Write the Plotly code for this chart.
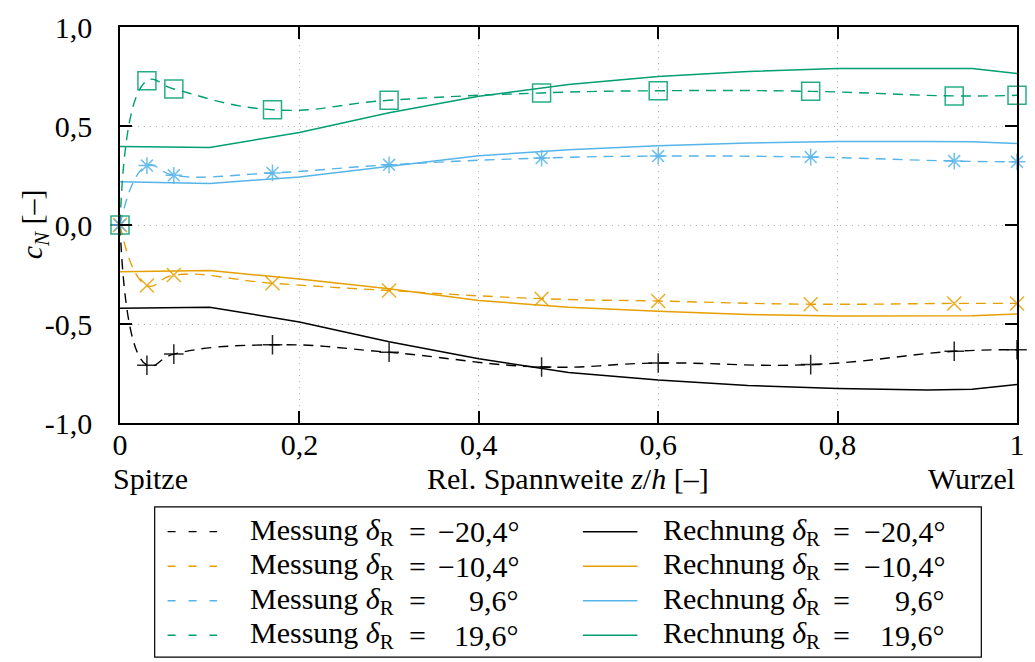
import plotly.graph_objects as go

# ---------------- data ----------------
z_meas = [0.0, 0.03, 0.06, 0.17, 0.30, 0.47, 0.60, 0.77, 0.93, 1.0]
mess_m204 = [0.0, -0.708, -0.652, -0.605, -0.643, -0.717, -0.697, -0.705, -0.638, -0.630]
mess_m104 = [0.0, -0.306, -0.253, -0.294, -0.331, -0.372, -0.384, -0.400, -0.396, -0.396]
mess_p96 = [0.0, 0.300, 0.251, 0.263, 0.304, 0.338, 0.348, 0.343, 0.323, 0.319]
mess_p196 = [0.0, 0.728, 0.687, 0.582, 0.630, 0.667, 0.678, 0.675, 0.652, 0.655]

z_calc = [0.0, 0.1, 0.2, 0.3, 0.4, 0.5, 0.6, 0.7, 0.8, 0.9, 0.95, 1.0]
rech_m204 = [-0.420, -0.415, -0.490, -0.590, -0.675, -0.745, -0.783, -0.810, -0.826, -0.833, -0.830, -0.805]
rech_m104 = [-0.236, -0.230, -0.273, -0.322, -0.381, -0.415, -0.436, -0.452, -0.459, -0.460, -0.458, -0.450]
rech_p96 = [0.218, 0.210, 0.243, 0.295, 0.350, 0.380, 0.400, 0.414, 0.422, 0.422, 0.420, 0.412]
rech_p196 = [0.397, 0.392, 0.467, 0.567, 0.650, 0.710, 0.750, 0.775, 0.790, 0.792, 0.790, 0.765]

angle_labels = ["\u221220,4°", "\u221210,4°", "9,6°", "19,6°"]
x_tickvals = [0, 0.2, 0.4, 0.6, 0.8, 1.0]
x_ticktext = ["0", "0,2", "0,4", "0,6", "0,8", "1"]
y_tickvals = [-1.0, -0.5, 0.0, 0.5, 1.0]
y_ticktext = ["-1,0", "-0,5", "0,0", "0,5", "1,0"]

# ---------------- styles ----------------
colors = ["#000000", "#E69F00", "#56B4E9", "#009E73"]
symbols = ["cross-thin-open", "x-thin-open", "asterisk-open", "square-open"]
msizes = [14, 14, 14, 18]
FONT = "Liberation Serif"
FS = 30
DASH = "10px,7px"

mess = [mess_m204, mess_m104, mess_p96, mess_p196]
rech = [rech_m204, rech_m104, rech_p96, rech_p196]

fig = go.Figure()
for i in range(4):
    fig.add_trace(go.Scatter(
        x=z_calc, y=rech[i], mode="lines",
        line=dict(color=colors[i], width=1.5),
        showlegend=False, hoverinfo="skip"))
for i in range(4):
    fig.add_trace(go.Scatter(
        x=z_meas, y=mess[i], mode="lines",
        line=dict(color=colors[i], width=1.4, dash=DASH, shape="spline", smoothing=1.3),
        showlegend=False, hoverinfo="skip"))
for i in range(4):
    fig.add_trace(go.Scatter(
        x=z_meas, y=mess[i], mode="markers", cliponaxis=False,
        marker=dict(symbol=symbols[i], size=msizes[i], color=colors[i],
                    line=dict(color=colors[i], width=1.5), opacity=0.85),
        showlegend=False, hoverinfo="skip"))

# pixel -> paper helpers (plot area 120..1025 x 22..423)
L, R, T, B = 120, 1025, 22, 423
def px(xp):
    return (xp - L) / (R - L)
def py(yp):
    return (B - yp) / (B - T)

def ann(text, x, y, xa, angle=0):
    return dict(text=text, x=px(x), y=py(y), xref="paper", yref="paper",
                xanchor=xa, yanchor="middle", showarrow=False, textangle=angle)

annotations = []
shapes = []
# x axis labels row
row_y = 479
annotations.append(ann("Spitze", 111, row_y, "left"))
annotations.append(ann("Wurzel", 1025, row_y, "right"))
annotations.append(ann("Rel. Spannweite <i>z</i>/<i>h</i> [–]", 572, row_y, "center"))
# y axis title
annotations.append(ann("<i>c</i><sub><i>N</i></sub> [–]", 33, 222, "center", -90))

# legend box
shapes.append(dict(type="rect", xref="paper", yref="paper", x0=px(155), x1=px(989),
                   y0=py(508), y1=py(660), line=dict(color="#000000", width=1.2),
                   fillcolor="white", layer="above"))
row_ys = [533, 568, 603, 638]
for i in range(4):
    yy = row_ys[i]
    # Messung column
    shapes.append(dict(type="line", xref="paper", yref="paper", x0=px(168), x1=px(218),
                       y0=py(yy), y1=py(yy), line=dict(color=colors[i], width=1.4, dash="8px,13px"),
                       layer="above"))
    annotations.append(ann("Messung <i>δ</i><sub>R</sub>", 249, yy, "left"))
    annotations.append(ann("=", 420, yy, "center"))
    annotations.append(ann(angle_labels[i], 525, yy, "right"))
    # Rechnung column
    shapes.append(dict(type="line", xref="paper", yref="paper", x0=px(587), x1=px(642),
                       y0=py(yy), y1=py(yy), line=dict(color=colors[i], width=1.5), layer="above"))
    annotations.append(ann("Rechnung <i>δ</i><sub>R</sub>", 666, yy, "left"))
    annotations.append(ann("=", 848, yy, "center"))
    annotations.append(ann(angle_labels[i], 954, yy, "right"))

axis_common = dict(showline=True, linecolor="#000000", linewidth=1.5, mirror="ticks",
                   ticks="inside", ticklen=12, tickwidth=1.5, tickcolor="#000000",
                   showgrid=True, gridcolor="#b4b4b4", gridwidth=1.3, griddash="1px,5px",
                   zeroline=False, tickfont=dict(family=FONT, size=FS, color="#000000"))

fig.update_layout(
    width=1035, height=662, autosize=False,
    margin=dict(l=L, r=1035 - R, t=T, b=662 - B, pad=0),
    paper_bgcolor="white", plot_bgcolor="white",
    font=dict(family=FONT, size=FS, color="#000000"),
    xaxis=dict(range=[0, 1], tickmode="array", tickvals=x_tickvals, ticktext=x_ticktext,
               ticklabelstandoff=-6, **axis_common),
    yaxis=dict(range=[-1, 1], tickmode="array", tickvals=y_tickvals, ticktext=y_ticktext,
               ticklabelstandoff=20, **axis_common),
    annotations=annotations, shapes=shapes,
)

fig.write_html("out.html")
